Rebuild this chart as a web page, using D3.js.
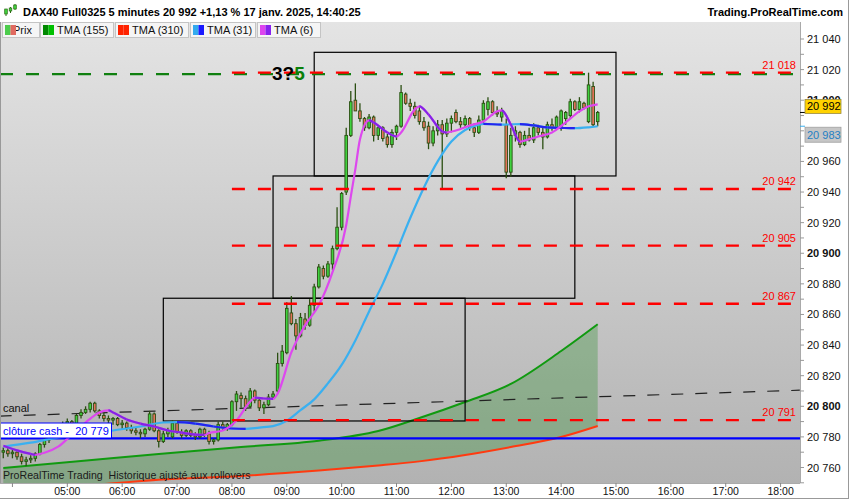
<!DOCTYPE html>
<html>
<head>
<meta charset="utf-8">
<script src="https://cdn.jsdelivr.net/npm/d3@7"></script>
<style>
  body { margin: 0; background: #fff; }
  svg { display: block; font-family: "Liberation Sans", Arial, sans-serif; }
</style>
</head>
<body>
<svg id="chart"></svg>
<script>
// 5 minute candles, first one at 03:50, last one at 14:40
var firstCandle = "03:50";
var lastCandle = "14:40";
var opens = [
  20770, 20771, 20769, 20770, 20767, 20764, 20765, 20766, 20769, 20775,
  20778, 20782, 20784, 20787, 20786, 20790, 20788, 20794, 20796, 20798,
  20802, 20797, 20794, 20792, 20791, 20792, 20788, 20789, 20786, 20784,
  20783, 20782, 20785, 20795, 20784, 20777, 20782, 20780, 20789, 20783,
  20781, 20784, 20781, 20780, 20785, 20782, 20777, 20778, 20788, 20786,
  20788, 20803, 20807, 20805, 20800, 20810, 20804, 20799, 20801, 20806,
  20810, 20828, 20835, 20861, 20854, 20846, 20857, 20853, 20866, 20878,
  20890, 20885, 20893, 20903, 20917, 20940, 20977, 21000, 20993, 20988,
  20982, 20989, 20977, 20982, 20976, 20971, 20979, 20983, 21004, 20998,
  20996, 20993, 20986, 20983, 20972, 20980, 20984, 20978, 20985, 20992,
  20986, 20984, 20988, 20982, 20979, 20987, 20994, 20999, 20992, 20989,
  20984, 20953, 20977, 20979, 20971, 20977, 20974, 20982, 20979, 20976,
  20984, 20982, 20983, 20988, 20990, 20999, 20994, 20998, 20986, 21009,
  20986
];
var highs = [
  20773, 20774, 20772, 20771, 20769, 20767, 20768, 20770, 20776, 20781,
  20785, 20787, 20789, 20790, 20792, 20791, 20795, 20798, 20800, 20803,
  20803, 20798, 20796, 20794, 20793, 20793, 20791, 20790, 20788, 20786,
  20785, 20786, 20797, 20796, 20785, 20784, 20786, 20791, 20790, 20785,
  20785, 20785, 20783, 20786, 20786, 20784, 20779, 20790, 20790, 20789,
  20804, 20810, 20809, 20807, 20812, 20811, 20805, 20803, 20808, 20810,
  20835, 20840, 20868, 20872, 20857, 20861, 20861, 20870, 20880, 20893,
  20892, 20895, 20905, 20930, 20940, 20982, 21006, 21011, 20998, 20989,
  20991, 20990, 20983, 20983, 20978, 20981, 20984, 21010, 21005, 21001,
  20999, 20996, 20989, 20986, 20983, 20987, 20987, 20988, 20990, 20994,
  20989, 20990, 20989, 20985, 20990, 21000, 21002, 21000, 20996, 20995,
  20988, 20982, 20983, 20980, 20980, 20982, 20985, 20984, 20982, 20986,
  20988, 20990, 20994, 20993, 21001, 21000, 21002, 20999, 21018, 21012,
  20993
];
var lows = [
  20766, 20767, 20766, 20765, 20762, 20761, 20763, 20764, 20768, 20773,
  20776, 20780, 20782, 20784, 20785, 20786, 20787, 20792, 20795, 20796,
  20796, 20792, 20790, 20789, 20788, 20787, 20785, 20784, 20782, 20781,
  20779, 20780, 20784, 20783, 20773, 20776, 20780, 20779, 20782, 20779,
  20780, 20780, 20778, 20779, 20780, 20775, 20775, 20777, 20784, 20784,
  20787, 20797, 20799, 20797, 20799, 20802, 20797, 20795, 20800, 20805,
  20808, 20826, 20834, 20853, 20837, 20845, 20850, 20852, 20862, 20877,
  20883, 20884, 20889, 20902, 20915, 20938, 20976, 20993, 20986, 20980,
  20981, 20973, 20974, 20973, 20969, 20969, 20974, 20982, 20997, 20993,
  20988, 20984, 20980, 20968, 20970, 20977, 20942, 20976, 20979, 20985,
  20982, 20982, 20980, 20976, 20978, 20985, 20990, 20990, 20989, 20986,
  20949, 20950, 20973, 20969, 20970, 20973, 20972, 20977, 20968, 20975,
  20980, 20981, 20980, 20984, 20988, 20993, 20992, 20994, 20985, 20983,
  20983
];
var closes = [
  20771, 20769, 20770, 20767, 20764, 20765, 20766, 20769, 20775, 20778,
  20782, 20784, 20787, 20786, 20790, 20788, 20794, 20796, 20798, 20802,
  20797, 20794, 20792, 20791, 20792, 20788, 20789, 20786, 20784, 20783,
  20782, 20785, 20795, 20784, 20777, 20782, 20784, 20789, 20783, 20781,
  20784, 20781, 20780, 20785, 20782, 20777, 20778, 20788, 20786, 20788,
  20803, 20808, 20805, 20800, 20810, 20804, 20799, 20801, 20806, 20808,
  20828, 20836, 20864, 20854, 20846, 20858, 20853, 20866, 20878, 20891,
  20885, 20893, 20903, 20917, 20939, 20977, 20999, 20993, 20988, 20982,
  20989, 20977, 20982, 20975, 20971, 20979, 20983, 21005, 20998, 20996,
  20990, 20986, 20982, 20972, 20980, 20984, 20978, 20985, 20988, 20986,
  20984, 20988, 20982, 20979, 20987, 20998, 20999, 20992, 20991, 20993,
  20953, 20977, 20980, 20971, 20977, 20974, 20982, 20979, 20976, 20984,
  20982, 20989, 20993, 20992, 20999, 20994, 20999, 20995, 21010, 20984,
  20992
];

var tma6Times = [
  "03:50", "04:05", "04:20", "04:25", "04:35", "04:50", "05:05", "05:20", "05:35", "05:45",
  "05:50", "06:05", "06:20", "06:35", "06:50", "07:05", "07:20", "07:30", "07:35", "07:50",
  "08:05", "08:20", "08:25", "08:35", "08:45", "08:50", "09:05", "09:20", "09:35", "09:50",
  "10:05", "10:10", "10:15", "10:20", "10:30", "10:35", "10:50", "11:00", "11:05", "11:20",
  "11:25", "11:35", "11:50", "11:55", "12:05", "12:20", "12:35", "12:50", "12:55", "13:05",
  "13:15", "13:20", "13:35", "13:50", "14:05", "14:20", "14:30", "14:40"
];
var tma6 = [
  20774.2, 20771.2, 20768.9, 20768.3, 20769.6, 20773.6, 20781.5, 20789.4, 20796, 20797.3,
  20796, 20791.4, 20788.7, 20786.8, 20784.2, 20782.8, 20781.5, 20781.3, 20782.5, 20784.2,
  20790.7, 20803.1, 20805.7, 20805.1, 20804.8, 20808.3, 20835.2, 20852.9, 20866, 20887.7,
  20918.5, 20937, 20955, 20974.3, 20986.8, 20985.5, 20978.9, 20976.3, 20978.9, 20994,
  20996, 20990.7, 20979.6, 20978.9, 20980.2, 20983.5, 20986.1, 20992.7, 20993.3, 20984.1,
  20973, 20973.6, 20976.3, 20978.9, 20985.5, 20992.7, 20996, 20997.3
];

// TMA (31), light blue / blue curve
var tma31Times = [
  "03:50", "04:20", "04:50", "05:20", "05:50", "06:20", "06:45", "07:00", "07:20", "07:40",
  "08:00", "08:15", "08:30", "08:45", "09:00", "09:15", "09:30", "09:45", "10:00", "10:15",
  "10:30", "10:45", "11:00", "11:15", "11:30", "11:45", "12:00", "12:15", "12:30", "12:35",
  "12:55", "13:05", "13:15", "13:30", "13:45", "14:00", "14:15", "14:30", "14:40"
];
var tma31 = [
  20773.6, 20776.2, 20779.5, 20781.5, 20784.2, 20786.8, 20789.4, 20789.6, 20788.7, 20786.8,
  20785.5, 20785.2, 20786.1, 20787, 20790.5, 20797.5, 20804.5, 20815, 20827, 20843,
  20862, 20880, 20901, 20923, 20943, 20960, 20973, 20980.5, 20984, 20984.6,
  20984, 20984.2, 20984.4, 20983.5, 20982.2, 20981.9, 20981.7, 20982.3, 20983
];

// TMA (155) green and TMA (310) red
var longTimes = ["03:50", "05:15", "06:40", "08:10", "09:35", "10:40", "11:25", "12:15", "13:05", "14:00", "14:40"];
var tma155 = [20759.7, 20764.2, 20768.8, 20773.4, 20777.5, 20783.8, 20792.3, 20802.8, 20814.6, 20836.1, 20853.6];
var tma310 = [20745, 20748, 20752, 20754.5, 20758, 20761.3, 20764, 20768.2, 20773.4, 20779.9, 20787.1];

// drawn objects
var levels = [21018, 20942, 20905, 20867, 20791];
var levelStart = "08:00";
var levelEnd = "18:12";
var dayHigh = 21017;
var cashClose = 20779;
var canalTimes = ["03:46", "18:21"];
var canalPrices = [20793.6, 20810.5];
var boxStarts = ["06:45", "08:45", "09:30"];
var boxEnds = ["12:15", "14:15", "15:00"];
var boxLows = [20790.4, 20870.6, 20950.5];
var boxHighs = [20870.6, 20950.5, 21031.3];
var lastPrice = 20992;
var lastTma31 = 20983;
var hourTicks = ["04:00", "05:00", "06:00", "07:00", "08:00", "09:00", "10:00", "11:00",
  "12:00", "13:00", "14:00", "15:00", "16:00", "17:00", "18:00"];
var priceTicks = d3.range(20760, 21041, 20);

var legendItems = ["Prix", "TMA (155)", "TMA (310)", "TMA (31)", "TMA (6)"];

var W = 850, H = 500;
var plotLeft = 0, plotRight = 800, plotTop = 22, plotBottom = 483;
var parseTime = d3.timeParse("%H:%M");
var fmt = function (v) { return d3.format(",")(v).replace(",", " "); };

var svg = d3.select("#chart").attr("width", W).attr("height", H);

var x = d3.scaleTime()
  .domain([parseTime("05:00"), parseTime("18:00")])
  .range([67.3, 780.6]);
var y = d3.scaleLinear()
  .domain([20760, 21040])
  .range([467.5, 39]);

var defs = svg.append("defs");
var grad = defs.append("linearGradient").attr("id", "bg").attr("x1", 0).attr("y1", 0).attr("x2", 0).attr("y2", 1);
grad.append("stop").attr("offset", "0%").attr("stop-color", "#e4e4e4");
grad.append("stop").attr("offset", "100%").attr("stop-color", "#b2b2b2");
defs.append("clipPath").attr("id", "plotclip").append("rect")
  .attr("x", plotLeft).attr("y", plotTop).attr("width", plotRight - plotLeft).attr("height", plotBottom - plotTop);

svg.append("rect").attr("width", W).attr("height", H).attr("fill", "#fff");
svg.append("rect").attr("x", plotLeft).attr("y", plotTop)
  .attr("width", plotRight - plotLeft).attr("height", plotBottom - plotTop)
  .attr("fill", "url(#bg)");

var plot = svg.append("g").attr("clip-path", "url(#plotclip)");

// fill between the two long averages
var longPts = longTimes.map(function (t, i) { return {t: parseTime(t), a: tma155[i], b: tma310[i]}; });
plot.append("path").datum(longPts)
  .attr("fill", "rgba(0,128,0,0.25)")
  .attr("d", d3.area().curve(d3.curveMonotoneX)
    .x(function (d) { return x(d.t); })
    .y0(function (d) { return y(d.b); })
    .y1(function (d) { return y(d.a); }));
plot.append("path").datum(longPts)
  .attr("fill", "none").attr("stroke", "#109a10").attr("stroke-width", 2)
  .attr("d", d3.line().curve(d3.curveMonotoneX).x(function (d) { return x(d.t); }).y(function (d) { return y(d.a); }));
plot.append("path").datum(longPts)
  .attr("fill", "none").attr("stroke", "#ff3a10").attr("stroke-width", 2)
  .attr("d", d3.line().curve(d3.curveMonotoneX).x(function (d) { return x(d.t); }).y(function (d) { return y(d.b); }));

// cash close line
plot.append("line")
  .attr("x1", plotLeft).attr("x2", plotRight)
  .attr("y1", y(cashClose)).attr("y2", y(cashClose))
  .attr("stroke", "#0000ff").attr("stroke-width", 2.4);

// canal
plot.append("line")
  .attr("x1", x(parseTime(canalTimes[0]))).attr("y1", y(canalPrices[0]))
  .attr("x2", x(parseTime(canalTimes[1]))).attr("y2", y(canalPrices[1]))
  .attr("stroke", "#222").attr("stroke-width", 1.2).attr("stroke-dasharray", "12,12");

// boxes
plot.selectAll(".box").data(boxStarts).enter().append("rect")
  .attr("class", "box")
  .attr("x", function (d) { return x(parseTime(d)); })
  .attr("y", function (d, i) { return y(boxHighs[i]); })
  .attr("width", function (d, i) { return x(parseTime(boxEnds[i])) - x(parseTime(d)); })
  .attr("height", function (d, i) { return y(boxLows[i]) - y(boxHighs[i]); })
  .attr("fill", "none").attr("stroke", "#000").attr("stroke-width", 1.2);

// candles
var candleTimes = d3.timeMinute.every(5).range(parseTime(firstCandle), d3.timeMinute.offset(parseTime(lastCandle), 1));
var candles = candleTimes.map(function (t, i) {
  return {t: t, o: opens[i], h: highs[i], l: lows[i], c: closes[i]};
});
plot.selectAll(".wick").data(candles).enter().append("line")
  .attr("class", "wick")
  .attr("x1", function (d) { return x(d.t); })
  .attr("x2", function (d) { return x(d.t); })
  .attr("y1", function (d) { return y(d.h); })
  .attr("y2", function (d) { return y(d.l); })
  .attr("stroke", "#2b4f12").attr("stroke-width", 1.3);
plot.selectAll(".body").data(candles).enter().append("rect")
  .attr("class", "body")
  .attr("x", function (d) { return x(d.t) - 1.3; })
  .attr("width", 2.6)
  .attr("y", function (d) { return y(Math.max(d.o, d.c)); })
  .attr("height", function (d) { return Math.max(1, Math.abs(y(d.o) - y(d.c))); })
  .attr("fill", function (d) { return d.c >= d.o ? "#3fd23f" : "#e4735a"; })
  .attr("stroke", "#2b4f12").attr("stroke-width", 0.9);

// averages that change colour with their slope
var clipCount = 0;
function drawTrend(times, vals, upColor, downColor) {
  var pts = times.map(function (t, i) { return {t: parseTime(t), v: vals[i]}; });
  var line = d3.line().curve(d3.curveMonotoneX)
    .x(function (d) { return x(d.t); }).y(function (d) { return y(d.v); });
  plot.append("path").datum(pts).attr("fill", "none")
    .attr("stroke", upColor).attr("stroke-width", 2.2).attr("d", line);
  for (var i = 1; i < pts.length; i++) {
    if (pts[i].v < pts[i - 1].v) {
      var id = "dn" + (clipCount++);
      defs.append("clipPath").attr("id", id).append("rect")
        .attr("x", x(pts[i - 1].t)).attr("width", x(pts[i].t) - x(pts[i - 1].t))
        .attr("y", 0).attr("height", H);
      plot.append("path").datum(pts).attr("fill", "none")
        .attr("clip-path", "url(#" + id + ")")
        .attr("stroke", downColor).attr("stroke-width", 2.2).attr("d", line);
    }
  }
}
drawTrend(tma31Times, tma31, "#3ab0f0", "#2424ee");
drawTrend(tma6Times, tma6, "#dd48ee", "#8424e6");

// high of day, green dashed under the red one
plot.append("line")
  .attr("x1", plotLeft).attr("x2", plotRight)
  .attr("y1", y(dayHigh)).attr("y2", y(dayHigh))
  .attr("stroke", "#108010").attr("stroke-width", 2.2).attr("stroke-dasharray", "13,13");

// red levels
var lv = svg.append("g");
lv.selectAll("line").data(levels).enter().append("line")
  .attr("x1", x(parseTime(levelStart))).attr("x2", x(parseTime(levelEnd)))
  .attr("y1", function (d) { return y(d); }).attr("y2", function (d) { return y(d); })
  .attr("stroke", "#ff0000").attr("stroke-width", 2.3).attr("stroke-dasharray", "13,13");
lv.selectAll("text").data(levels).enter().append("text")
  .attr("x", 796).attr("y", function (d) { return y(d) - 4; })
  .attr("text-anchor", "end").attr("font-size", 11).attr("fill", "#ff0000")
  .text(function (d) { return fmt(d); });

// 3?5 mark
var mark = svg.append("text").attr("x", 272).attr("y", 79.5)
  .attr("font-size", 19).attr("font-weight", "bold");
mark.append("tspan").attr("fill", "#000").text("3?");
mark.append("tspan").attr("fill", "#0a800a").text("5");

// canal label
svg.append("text").attr("x", 3).attr("y", 412).attr("font-size", 11).attr("fill", "#111").text("canal");

// cash close tag
svg.append("rect").attr("x", 0.5).attr("y", 423).attr("width", 111).attr("height", 15)
  .attr("fill", "#fff").attr("stroke", "#0000ff").attr("stroke-width", 1);
svg.append("text").attr("x", 3).attr("y", 434.5).attr("font-size", 11).attr("fill", "#0000ff")
  .attr("xml:space", "preserve").text("cl\u00f4ture cash -  " + fmt(cashClose));

svg.append("text").attr("x", 3).attr("y", 479).attr("font-size", 10.6).attr("fill", "#1a1a1a")
  .attr("xml:space", "preserve").text("ProRealTime Trading  Historique ajust\u00e9 aux rollovers");

// plot frame
svg.append("line").attr("x1", 0.5).attr("x2", 0.5).attr("y1", plotTop).attr("y2", plotBottom).attr("stroke", "#999");
svg.append("line").attr("x1", plotRight + 0.5).attr("x2", plotRight + 0.5).attr("y1", plotTop).attr("y2", plotBottom).attr("stroke", "#aaa");
svg.append("line").attr("x1", 0).attr("x2", plotRight).attr("y1", plotBottom + 0.5).attr("y2", plotBottom + 0.5).attr("stroke", "#aaa");
svg.append("line").attr("x1", 848.5).attr("x2", 848.5).attr("y1", 0).attr("y2", 499).attr("stroke", "#999");
svg.append("line").attr("x1", 0).attr("x2", 849).attr("y1", 498.5).attr("y2", 498.5).attr("stroke", "#999");

// right price axis
var tagTop = y(lastPrice) - 13, tagMid = y(lastTma31) + 1;
var ya = svg.append("g");
ya.selectAll(".minor").data(d3.range(20750, 21041, 10)).enter().append("line")
  .attr("x1", plotRight).attr("x2", plotRight + 4)
  .attr("y1", function (d) { return y(d); }).attr("y2", function (d) { return y(d); })
  .attr("stroke", "#999");
defs.append("clipPath").attr("id", "axisclip").append("rect")
  .attr("x", plotRight).attr("y", 0).attr("width", 48).attr("height", tagTop);
ya.selectAll("text").data(priceTicks.filter(function (d) { return y(d) < tagMid || y(d) > tagMid + 15; }))
  .enter().append("text")
  .attr("x", 807).attr("y", function (d) { return y(d) + 4; })
  .attr("font-size", 11)
  .attr("font-weight", function (d) { return d % 100 === 0 ? "bold" : "normal"; })
  .attr("clip-path", function (d) { return Math.abs(y(d) - tagTop) < 8 ? "url(#axisclip)" : null; })
  .attr("fill", "#111")
  .text(function (d) { return fmt(d); });

// last value tags
svg.append("line").attr("x1", plotRight).attr("x2", 805).attr("y1", y(lastPrice)).attr("y2", y(lastPrice)).attr("stroke", "#000");
svg.append("rect").attr("x", 805).attr("y", tagTop).attr("width", 36).attr("height", 14)
  .attr("fill", "#ffd200").attr("stroke", "#9a8a40").attr("stroke-width", 0.8);
svg.append("text").attr("x", 807).attr("y", y(lastPrice) - 2).attr("font-size", 11).attr("fill", "#000").text(fmt(lastPrice));
svg.append("line").attr("x1", plotRight).attr("x2", 805).attr("y1", y(lastTma31)).attr("y2", y(lastTma31)).attr("stroke", "#3ab0f0");
svg.append("rect").attr("x", 805).attr("y", tagMid).attr("width", 36).attr("height", 15)
  .attr("fill", "#c6c6c6").attr("stroke", "#a0a0a0").attr("stroke-width", 0.8);
svg.append("text").attr("x", 807).attr("y", y(lastTma31) + 13).attr("font-size", 11).attr("fill", "#1f7fc4").text(fmt(lastTma31));

// time axis
var xa = svg.append("g");
xa.selectAll("line").data(hourTicks).enter().append("line")
  .attr("x1", function (d) { return x(parseTime(d)); }).attr("x2", function (d) { return x(parseTime(d)); })
  .attr("y1", plotBottom).attr("y2", plotBottom + 4).attr("stroke", "#888");
xa.selectAll("text").data(hourTicks.slice(1)).enter().append("text")
  .attr("x", function (d) { return x(parseTime(d)); }).attr("y", 495)
  .attr("text-anchor", "middle").attr("font-size", 10.5).attr("fill", "#111")
  .text(function (d) { return d; });

// title bar
svg.append("rect").attr("x", 0).attr("y", 0).attr("width", 848).attr("height", 22).attr("fill", "#fff");
var icon = svg.append("g");
[[6, 11, 16, 9, 14], [10.5, 7, 13, 8, 11], [15, 4, 10, 5, 9]].forEach(function (c) {
  icon.append("line").attr("x1", c[0]).attr("x2", c[0]).attr("y1", c[1]).attr("y2", c[2]).attr("stroke", "#2b6a12");
  icon.append("rect").attr("x", c[0] - 1.3).attr("y", c[3]).attr("width", 2.6).attr("height", c[4] - c[3])
    .attr("fill", "#3fd23f").attr("stroke", "#2b6a12").attr("stroke-width", 0.7);
});
svg.append("text").attr("x", 23).attr("y", 16).attr("font-size", 11).attr("font-weight", "bold").attr("fill", "#000")
  .text("DAX40 Full0325 5 minutes " + fmt(lastPrice) + " +1,13 % 17 janv. 2025, 14:40:25");
svg.append("text").attr("x", 843).attr("y", 16).attr("text-anchor", "end").attr("font-size", 11).attr("font-weight", "bold").attr("fill", "#000")
  .text("Trading.ProRealTime.com");

// legend row
var legendBoxes = [[2, 37], [40, 73], [115, 73], [190, 65], [257, 63]];
var swatches = [["#4ccc4c", "#e06a60"], ["#008800", "#00c000"], ["#ff2200", "#ff2200"], ["#33aaee", "#1a1aff"], ["#dd44ee", "#8822ee"]];
var lg = svg.append("g");
legendItems.forEach(function (name, i) {
  var bx = legendBoxes[i][0], bw = legendBoxes[i][1];
  lg.append("rect").attr("x", bx + 0.5).attr("y", 22.5).attr("width", bw).attr("height", 15)
    .attr("fill", "#f5f5f5").attr("stroke", "#c4c4c4");
  lg.append("text").attr("x", i === 0 ? bx + 11 : bx + 17).attr("y", 34.3).attr("font-size", 11).attr("fill", "#111").text(name);
  lg.append("rect").attr("x", bx + 3).attr("y", 25).attr("width", 5.5).attr("height", 10).attr("fill", swatches[i][0]);
  lg.append("rect").attr("x", bx + 8.5).attr("y", 25).attr("width", 5.5).attr("height", 10).attr("fill", swatches[i][1]);
});
</script>
</body>
</html>
